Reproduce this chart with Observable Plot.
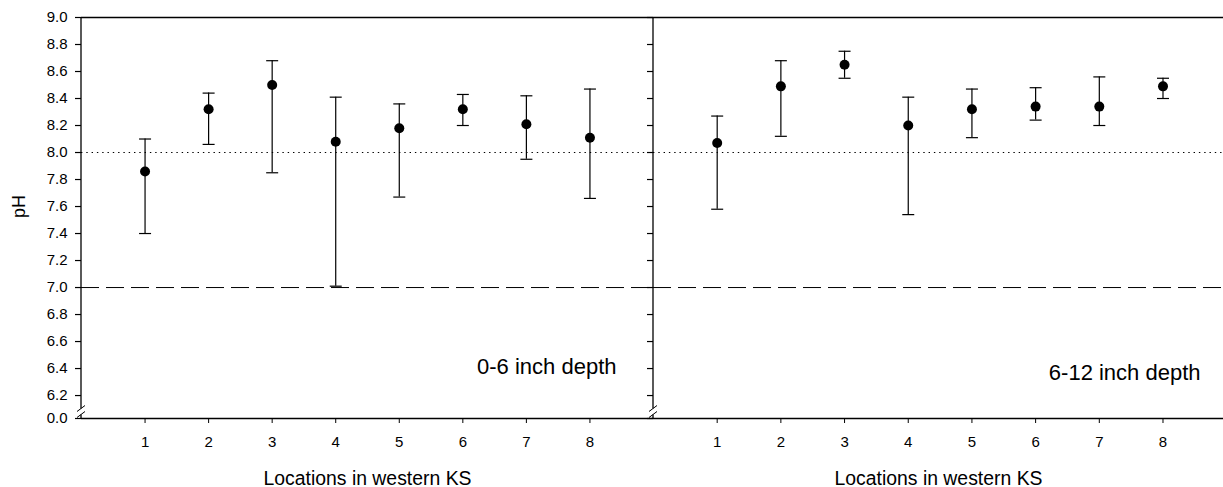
<!DOCTYPE html>
<html><head><meta charset="utf-8">
<script src="https://cdn.jsdelivr.net/npm/d3@7"></script>
<script src="https://cdn.jsdelivr.net/npm/@observablehq/plot@0.6"></script>
<style>
html,body{margin:0;padding:0;background:#fff;overflow:hidden}
#chart{position:relative;width:1223px;height:487px;font-family:Arial,"Liberation Sans",sans-serif}
#chart svg{position:absolute;top:0;overflow:visible}
</style></head><body><div id="chart"></div>
<script>
// ---- data ----
const locations = [1, 2, 3, 4, 5, 6, 7, 8];
const mean0to6  = [7.86, 8.32, 8.50, 8.08, 8.18, 8.32, 8.21, 8.11];
const upper0to6 = [8.10, 8.44, 8.68, 8.41, 8.36, 8.43, 8.42, 8.47];
const lower0to6 = [7.40, 8.06, 7.85, 7.01, 7.67, 8.20, 7.95, 7.66];
const mean6to12  = [8.07, 8.49, 8.65, 8.20, 8.32, 8.34, 8.34, 8.49];
const upper6to12 = [8.27, 8.68, 8.75, 8.41, 8.47, 8.48, 8.56, 8.55];
const lower6to12 = [7.58, 8.12, 8.55, 7.54, 8.11, 8.24, 8.20, 8.40];
const panelLabels = ["0-6 inch depth", "6-12 inch depth"];
const xLabel = "Locations in western KS";
const yLabel = "pH";
const yTickLabels = ["0.0", "6.2", "6.4", "6.6", "6.8", "7.0", "7.2", "7.4", "7.6", "7.8",
                     "8.0", "8.2", "8.4", "8.6", "8.8", "9.0"];
const referenceLines = [8.0, 7.0];      // dotted, dashed
const yTop = 9.0;
const yBreakValue = 6.03;               // axis position of the broken "0.0" tick

// ---- helpers ----
const yTickPositions = yTickLabels.map(s => s === "0.0" ? yBreakValue : +s);
const yTickLabelMap = new Map(yTickPositions.map((p, i) => [p, yTickLabels[i]]));
const rows = (means, lo, hi) => locations.map((loc, i) => ({loc, mean: means[i], lo: lo[i], hi: hi[i]}));
const capSymbol = {draw(ctx, size) { const w = Math.sqrt(size / Math.PI); ctx.moveTo(-w, 0); ctx.lineTo(w, 0); }};

function axisWithBreak(index, scales) {
  const x = scales.x(0), yb = scales.y(yBreakValue), yt = scales.y(yTop);
  const g = d3.create("svg:g").attr("stroke", "black").attr("fill", "none");
  g.append("line").attr("x1", x).attr("x2", x).attr("y1", yt).attr("y2", yb - 9.5).attr("stroke-width", 1.3);
  g.append("line").attr("x1", x).attr("x2", x).attr("y1", yb - 3.5).attr("y2", yb).attr("stroke-width", 1.3);
  g.append("line").attr("x1", x - 4).attr("y1", yb - 6.5).attr("x2", x + 4).attr("y2", yb - 12.5).attr("stroke-width", 1);
  g.append("line").attr("x1", x - 4).attr("y1", yb - 0.5).attr("x2", x + 4).attr("y2", yb - 6.5).attr("stroke-width", 1);
  return g.node();
}

function panel({data, label, width, marginLeft, xMax, showYLabels, labelDx, labelDy}) {
  return Plot.plot({
    width, height: 487,
    marginLeft, marginRight: 0, marginTop: 17, marginBottom: 69,
    x: {domain: [0, xMax]},
    y: {domain: [yBreakValue, yTop]},
    style: {fontFamily: "Arial, 'Liberation Sans', sans-serif", fontSize: "15px", color: "black", background: "transparent", overflow: "visible"},
    marks: [
      Plot.ruleY([referenceLines[0]], {stroke: "black", strokeWidth: 1.2, strokeDasharray: "1.4,3.9"}),
      Plot.ruleY([referenceLines[1]], {stroke: "black", strokeWidth: 1, strokeDasharray: "18,7"}),
      Plot.ruleY([yTop], {stroke: "black", strokeWidth: 1.3}),
      Plot.ruleY([yBreakValue], {stroke: "black", strokeWidth: 1.3}),
      axisWithBreak,
      Plot.axisY(yTickPositions, {
        anchor: "left", tickSize: 6, tickPadding: 8, label: null, strokeWidth: 1.2,
        tickFormat: showYLabels ? (d => yTickLabelMap.get(d)) : (() => "")
      }),
      Plot.axisX(locations, {anchor: "bottom", tickSize: 5, tickPadding: 13, label: null, tickFormat: d => String(d)}),
      Plot.ruleX(data, {x: "loc", y1: "lo", y2: "hi", stroke: "black", strokeWidth: 1.2}),
      Plot.dot(data, {x: "loc", y: "hi", symbol: capSymbol, r: 6, stroke: "black", strokeWidth: 1.2, fill: "none"}),
      Plot.dot(data, {x: "loc", y: "lo", symbol: capSymbol, r: 6, stroke: "black", strokeWidth: 1.2, fill: "none"}),
      Plot.dot(data, {x: "loc", y: "mean", r: 5, fill: "black", stroke: "none"}),
      Plot.text([label], {frameAnchor: "bottom-right", textAnchor: "end", lineAnchor: "bottom", dx: labelDx, dy: labelDy, fontSize: 22}),
      Plot.text([xLabel], {frameAnchor: "bottom", lineAnchor: "bottom", dy: 66, fontSize: 19.4}),
      ...(showYLabels ? [Plot.text([yLabel], {frameAnchor: "left", rotate: -90, dx: -62, fontSize: 18})] : [])
    ]
  });
}

const chart = document.getElementById("chart");
const left = panel({data: rows(mean0to6, lower0to6, upper0to6), label: panelLabels[0],
  width: 653, marginLeft: 81, xMax: 9, showYLabels: true, labelDx: -37, labelDy: -44.7});
left.style.left = "0px";
const right = panel({data: rows(mean6to12, lower6to12, upper6to12), label: panelLabels[1],
  width: 590, marginLeft: 20, xMax: 8.95, showYLabels: false, labelDx: -23, labelDy: -38.7});
right.style.left = "633px";
chart.append(left, right);
</script></body></html>
